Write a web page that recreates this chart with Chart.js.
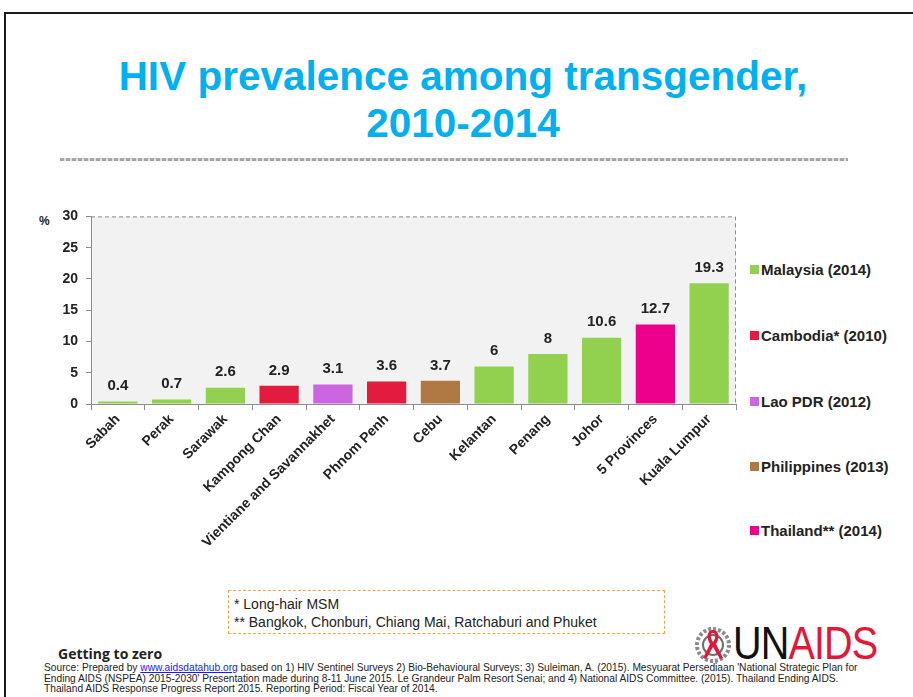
<!DOCTYPE html>
<html>
<head>
<meta charset="utf-8">
<script src="https://cdn.jsdelivr.net/npm/chart.js@4.4.0/dist/chart.umd.min.js"></script>
<style>
  html, body { margin: 0; padding: 0; background: #fff; overflow: hidden; }
  #page { position: relative; width: 913px; height: 697px; overflow: hidden; font-family: "Liberation Sans", Arial, sans-serif; }
  #frame { position: absolute; left: 4px; top: 12px; width: 1000px; height: 1000px; border: 2px solid #1a1a1a; }
  #title { position: absolute; left: 0; top: 53px; width: 926px; text-align: center; color: #00B0F0;
           font: bold 40.5px "Liberation Sans", Arial, sans-serif; line-height: 47px; }
  #rule { position: absolute; left: 60px; top: 158px; width: 788px; height: 3px;
          background: repeating-linear-gradient(90deg, #a6a6a6 0 4px, #e0e0e0 4px 6px); }
  #chartBox { position: absolute; left: 30px; top: 200px; width: 720px; height: 350px; }
  #pct { position: absolute; left: 39px; top: 214px; font: bold 12px "Liberation Sans", Arial, sans-serif; color: #222; }
  .leg { position: absolute; left: 750px; font: bold 15px "Liberation Sans", Arial, sans-serif; color: #222; white-space: nowrap; }
  .leg i { display: inline-block; width: 9px; height: 9px; margin-right: 2px; vertical-align: 1px; }
  #note { position: absolute; left: 228px; top: 590px; width: 437px; height: 44px; border: 1px dashed #F5A33A;
          font: 14px "Liberation Sans", Arial, sans-serif; color: #222; line-height: 18px; padding: 4px 0 0 5px; box-sizing: border-box; }
  #gtz { position: absolute; left: 58px; top: 644px; font: bold 14px "Open Sans", sans-serif; color: #222; }
  #src { position: absolute; left: 44px; top: 663px; font: 10.2px "Liberation Sans", sans-serif;
         color: #222; line-height: 10.5px; white-space: nowrap; }
  #src a { color: #1a1aff; text-decoration: underline; }
  #logo { position: absolute; left: 694px; top: 624px; width: 190px; height: 40px; }
  #unaids { position: absolute; left: 39px; top: -8px; font: 46px "Liberation Sans", sans-serif; letter-spacing: -1px;
            transform: scaleX(0.86); transform-origin: 0 0; white-space: nowrap; }
</style>
</head>
<body>
<div id="page">
  <div id="frame"></div>
  <div id="title">HIV prevalence among transgender,<br>2010-2014</div>
  <div id="rule"></div>
  <div id="pct">%</div>
  <div id="chartBox"><canvas id="chart" width="720" height="350"></canvas></div>
  <div id="legend"></div>
  <div id="note">* Long-hair MSM<br>** Bangkok, Chonburi, Chiang Mai, Ratchaburi and Phuket</div>
  <div id="gtz">Getting to zero</div>
  <div id="src">Source: Prepared by <a>www.aidsdatahub.org</a> based on 1) HIV Sentinel Surveys 2) Bio-Behavioural Surveys; 3) Suleiman, A. (2015). Mesyuarat Persediaan 'National Strategic Plan for<br>Ending AIDS (NSPEA) 2015-2030' Presentation made during 8-11 June 2015. Le Grandeur Palm Resort Senai; and 4) National AIDS Committee. (2015). Thailand Ending AIDS.<br>Thailand AIDS Response Progress Report 2015. Reporting Period: Fiscal Year of 2014.</div>
  <div id="logo">
    <svg width="38" height="40" viewBox="0 0 38 40" style="position:absolute;left:0;top:0">
      <circle cx="19" cy="21" r="16" fill="none" stroke="#8a8a8a" stroke-width="4" stroke-dasharray="3 2"/>
      <circle cx="19" cy="21" r="10" fill="none" stroke="#6f6f6f" stroke-width="2"/>
      <path d="M19 6 C13 6 12 14 16 20 L9 34 L12 35 L19 23 L26 35 L29 34 L22 20 C26 14 25 6 19 6 Z M19 9 C22 9 22 14 19 18 C16 14 16 9 19 9 Z" fill="#E2173A"/>
    </svg>
    <div id="unaids"><span style="color:#111">UN</span><span style="color:#E2173A">AIDS</span></div>
  </div>
</div>
<script>
// data
const categories = ['Sabah', 'Perak', 'Sarawak', 'Kampong Chan', 'Vientiane and Savannakhet', 'Phnom Penh',
                    'Cebu', 'Kelantan', 'Penang', 'Johor', '5 Provinces', 'Kuala Lumpur'];
const prevalence = [0.4, 0.7, 2.6, 2.9, 3.1, 3.6, 3.7, 6, 8, 10.6, 12.7, 19.3];
const countryOf = ['Malaysia', 'Malaysia', 'Malaysia', 'Cambodia', 'Lao', 'Cambodia',
                   'Philippines', 'Malaysia', 'Malaysia', 'Malaysia', 'Thailand', 'Malaysia'];
const countries = ['Malaysia', 'Cambodia', 'Lao', 'Philippines', 'Thailand'];
const legendLabels = ['Malaysia (2014)', 'Cambodia* (2010)', 'Lao PDR (2012)', 'Philippines (2013)', 'Thailand** (2014)'];
const countryColors = ['#92D050', '#E31B3F', '#CC66E0', '#B07843', '#EC008C'];
const yTicks = [0, 5, 10, 15, 20, 25, 30];

const barColors = countryOf.map(c => countryColors[countries.indexOf(c)]);

// legend on the right
const legendTops = [261, 327, 393, 458, 522];
const legendDiv = document.getElementById('legend');
legendLabels.forEach((lbl, i) => {
    const d = document.createElement('div');
    d.className = 'leg';
    d.style.top = legendTops[i] + 'px';
    d.innerHTML = '<i style="background:' + countryColors[i] + '"></i>' + lbl;
    legendDiv.appendChild(d);
});

// grey plot area with dashed top / right edges
const plotBox = {
    id: 'plotBox',
    beforeDraw(chart) {
        const { ctx, chartArea: a } = chart;
        ctx.save();
        ctx.fillStyle = '#F2F2F2';
        ctx.fillRect(a.left, a.top, a.right - a.left, a.bottom - a.top);
        ctx.restore();
    },
    afterDraw(chart) {
        const { ctx, chartArea: a } = chart;
        ctx.save();
        ctx.strokeStyle = '#8c8c8c';
        ctx.lineWidth = 1;
        ctx.setLineDash([4, 3]);
        ctx.beginPath();
        ctx.moveTo(a.left, a.top + 0.5);
        ctx.lineTo(a.right - 0.5, a.top + 0.5);
        ctx.lineTo(a.right - 0.5, a.bottom);
        ctx.stroke();
        ctx.restore();
    }
};

// value labels above bars
const valueLabels = {
    id: 'valueLabels',
    afterDatasetsDraw(chart) {
        const { ctx } = chart;
        const meta = chart.getDatasetMeta(0);
        ctx.save();
        ctx.font = 'bold 15px "Liberation Sans", Arial, sans-serif';
        ctx.fillStyle = '#222';
        ctx.textAlign = 'center';
        ctx.textBaseline = 'bottom';
        meta.data.forEach((bar, i) => {
            ctx.fillText(String(prevalence[i]), bar.x, bar.y - 8);
        });
        ctx.restore();
    }
};

new Chart(document.getElementById('chart'), {
    type: 'bar',
    data: {
        labels: categories,
        datasets: [{
            data: prevalence,
            backgroundColor: barColors,
            borderWidth: 0,
            categoryPercentage: 1,
            barPercentage: 0.73
        }]
    },
    options: {
        responsive: false,
        maintainAspectRatio: false,
        animation: false,
        layout: { padding: { top: 16, right: 14, left: 0, bottom: 0 } },
        plugins: { legend: { display: false }, tooltip: { enabled: false } },
        scales: {
            x: {
                grid: { offset: true, drawOnChartArea: false, tickLength: 6, color: '#8c8c8c' },
                border: { color: '#8c8c8c' },
                ticks: {
                    minRotation: 45, maxRotation: 45, autoSkip: false, padding: 1,
                    color: '#222', font: { family: '"Liberation Sans", Arial, sans-serif', size: 14, weight: 'bold' }
                },
                afterFit(scale) { scale.height = 146; }
            },
            y: {
                min: 0, max: 30,
                grid: { drawOnChartArea: false, tickLength: 5, color: '#8c8c8c' },
                border: { color: '#8c8c8c' },
                afterBuildTicks(scale) { scale.ticks = yTicks.map(v => ({ value: v })); },
                ticks: {
                    padding: 8, color: '#222',
                    font: { family: '"Liberation Sans", Arial, sans-serif', size: 14, weight: 'bold' }
                },
                afterFit(scale) { scale.width = 61; }
            }
        }
    },
    plugins: [plotBox, valueLabels]
});
</script>
</body>
</html>
